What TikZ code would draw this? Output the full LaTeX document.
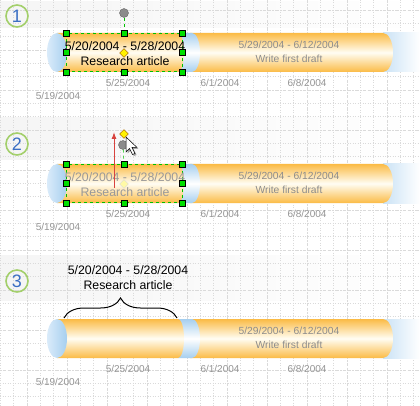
\documentclass[tikz,border=0pt]{standalone}
\usepackage{fontspec}
\setmainfont{Liberation Sans}
\usetikzlibrary{decorations.pathreplacing,arrows.meta,shapes.geometric}
\definecolor{barorange}{HTML}{FBBB45}
\definecolor{barlight}{HTML}{FFFDF3}
\definecolor{capblue}{HTML}{DAEBFA}
\definecolor{bandblue}{HTML}{A6CFEF}
\definecolor{ringgreen}{HTML}{A3CF6B}
\definecolor{numblue}{HTML}{3B6FC4}
\definecolor{selgreen}{HTML}{00C000}
\definecolor{handlegreen}{HTML}{00E000}
\definecolor{dategray}{HTML}{949494}
\definecolor{gridgray}{HTML}{DADADA}
\definecolor{dragred}{HTML}{D8433E}
\tikzset{
  minorgrid/.style={gridgray, line width=0.5pt, dotted},
  majorgrid/.style={gridgray, line width=0.4pt, dash pattern=on 2pt off 2pt},
  numring/.style={circle, draw=ringgreen, line width=1.6pt, minimum size=22pt, inner sep=0pt, text=numblue, font=\fontsize{18}{18}\selectfont},
  datelabel/.style={text=dategray, font=\fontsize{10}{12}\selectfont, inner sep=0pt},
  tasklabel/.style={align=center, font=\fontsize{12.3}{15}\selectfont, inner sep=0pt},
  selbox/.style={draw=selgreen, dashed, line width=0.6pt, minimum width=116pt, minimum height=38pt, inner sep=0pt},
  handle/.style={draw=black, fill=handlegreen, line width=0.4pt, minimum size=6pt, inner sep=0pt},
  rothandle/.style={circle, draw=black!60, fill=black!45, minimum size=9pt, inner sep=0pt},
  ctrlpoint/.style={diamond, draw=black!40!orange, fill=yellow, minimum size=9pt, inner sep=0pt, line width=0.4pt},
}
\begin{document}
\begin{tikzpicture}[x=1pt,y=-1pt]
    \useasboundingbox (0,0) rectangle (420,406);
    \fill[white] (0,0) rectangle (420,406);
    % shaded header bands
    \shade[left color=black!4, right color=white] (0,2) rectangle (420,28);
    \shade[left color=black!4, right color=white] (0,118) rectangle (420,160);
    \shade[left color=black!4, right color=white] (0,255) rectangle (420,300);
    % page grid
    \foreach \i in {0,...,31} {
        \draw[minorgrid] (\i*13.333+0.3,0) -- (\i*13.333+0.3,406);
        \draw[minorgrid] (0,\i*13.333+10) -- (420,\i*13.333+10);
    }
    \foreach \i in {0,...,10} {
        \draw[majorgrid] (\i*40+27,0) -- (\i*40+27,406);
        \draw[majorgrid] (0,\i*40+10) -- (420,\i*40+10);
    }
    % the three timelines
    \foreach \n/\by/\cy in {1/0/16, 2/131/144, 3/286/281} {
        \node[numring] (step\n) at (17,\cy) {\n};
        \shade[left color=bandblue!60, right color=white] (383,\by+33) rectangle (420,\by+72);
        \shade[top color=barorange, bottom color=barorange, middle color=barlight]
            (190,\by+33) -- (383,\by+33) arc[start angle=-90, end angle=90, x radius=10, y radius=19.5] -- (190,\by+72) -- cycle;
        \shade[top color=bandblue, bottom color=bandblue, middle color=white]
            (178,\by+33) -- (192,\by+33) arc[start angle=-90, end angle=90, x radius=8, y radius=19.5] -- (178,\by+72) -- cycle;
        \shade[top color=barorange, bottom color=barorange, middle color=barlight]
            (57,\by+33) -- (178,\by+33) arc[start angle=-90, end angle=90, x radius=6, y radius=19.5] -- (57,\by+72) -- cycle;
        \shade[left color=capblue, right color=bandblue] (57,\by+52.5) ellipse[x radius=10, y radius=19.5];
        \node[tasklabel, text=black!45, font=\fontsize{10.3}{14}\selectfont] (draft\n) at (289,\by+52) {5/29/2004 - 6/12/2004\\Write first draft};
        \node[datelabel] (d525\n) at (128,\by+83) {5/25/2004};
        \node[datelabel] (d601\n) at (220,\by+83) {6/1/2004};
        \node[datelabel] (d608\n) at (307,\by+83) {6/8/2004};
        \node[datelabel] (d519\n) at (58,\by+96) {5/19/2004};
    }
    % 1: selected task
    \node[selbox] (sel1) at (124,52.5) {};
    \node[tasklabel] (task1) at (125,53.5) {5/20/2004 - 5/28/2004\\Research article};
    \node[rothandle] (rot1) at (124,13) {};
    \draw[selgreen, dashed, line width=0.6pt] (rot1) -- (sel1.north);
    \foreach \a in {north west,north,north east,west,east,south west,south,south east}
        \node[handle] at (sel1.\a) {};
    \node[ctrlpoint] (ctrl1) at (124,53) {};
    % 2: dragging the control point
    \node[selbox] (sel2) at (124,183.5) {};
    \node[tasklabel, text=black!40] (task2) at (125,184.5) {5/20/2004 - 5/28/2004\\Research article};
    \node[ctrlpoint, draw=black!15, fill=yellow!35] (ghost2) at (124,184) {};
    \node[rothandle] (rot2) at (123,145) {};
    \draw[selgreen, dashed, line width=0.6pt] (rot2) -- (sel2.north);
    \foreach \a in {north west,north,north east,west,east,south west,south,south east}
        \node[handle] at (sel2.\a) {};
    \node[ctrlpoint] (ctrl2) at (124,134) {};
    \coordinate (dragstart) at (114,188);
    \coordinate (dragend) at (114,132);
    \draw[dragred, line width=1pt, -{Latex[length=7pt,width=5pt]}] (dragstart) -- (dragend);
    \fill[black!35, shift={(127.5,138.5)}] (0,0) -- (0,15) -- (3.5,11.5) -- (6.5,17.5) -- (9,16.5) -- (6,10.5) -- (11,10.5) -- cycle;
    \draw[fill=white, line width=0.5pt, shift={(126,137)}] (0,0) -- (0,15) -- (3.5,11.5) -- (6.5,17.5) -- (9,16.5) -- (6,10.5) -- (11,10.5) -- cycle;
    % 3: label moved above the bar
    \node[tasklabel] (task3) at (128,278) {5/20/2004 - 5/28/2004\\Research article};
    \coordinate (braceL) at (64,318);
    \coordinate (braceR) at (177,318);
    \draw[line width=1pt, decorate, decoration={brace, amplitude=20pt}] (braceL) -- (braceR);
\end{tikzpicture}
\end{document}
